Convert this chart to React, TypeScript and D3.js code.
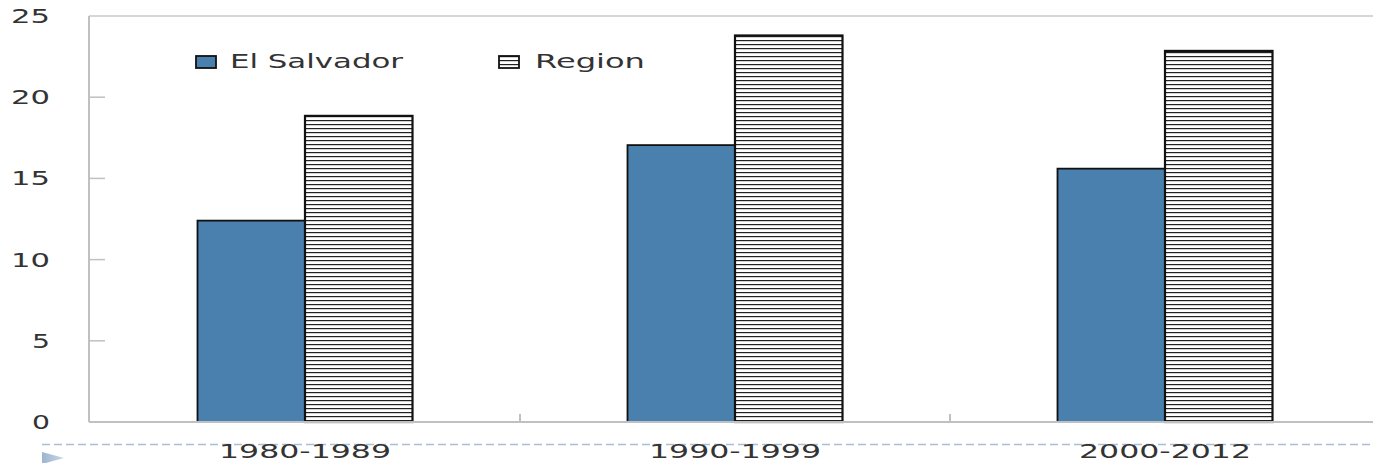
import React from "react";
import * as d3 from "d3";

const categories = ["1980-1989", "1990-1999", "2000-2012"];
const series = ["El Salvador", "Region"];
const elSalvador = [12.4, 17.05, 15.6];
const region = [18.85, 23.8, 22.85];
const yTicks = [0, 5, 10, 15, 20, 25];

const W = 1373;
const H = 463;
const left = 89;
const top = 16;
const bottom = 422;
const font = "'DejaVu Sans', Verdana, sans-serif";
const textColor = "#333333";

export default function App() {
  const x = d3.scaleBand<string>().domain(categories).range([90, 1380]).padding(0);
  const xs = d3
    .scaleBand<string>()
    .domain(series)
    .range([x.bandwidth() * 0.25, x.bandwidth() * 0.75])
    .padding(0);
  const y = d3.scaleLinear().domain([0, 25]).range([bottom, top]);
  const values = [elSalvador, region];

  return (
    <svg width={W} height={H} style={{ position: "absolute", left: 0, top: 0 }}>
      <defs>
        <pattern id="hatch" patternUnits="userSpaceOnUse" width="8" height="4" y="0">
          <rect width="8" height="4" fill="#ffffff" />
          <rect y="0" width="8" height="1.2" fill="#222222" />
        </pattern>
        <linearGradient id="tri" x1="0" x2="1" y1="0" y2="0">
          <stop offset="0" stopColor="#9cb4d0" />
          <stop offset="1" stopColor="#c8d6e6" />
        </linearGradient>
      </defs>
      <rect width={W} height={H} fill="#ffffff" />

      {/* plot frame */}
      <line x1={left} x2={W} y1={top} y2={top} stroke="#c8c8c8" strokeWidth={1.5} />
      <line x1={left} x2={left} y1={top} y2={bottom} stroke="#c0c0c0" strokeWidth={2} />

      {/* y ticks */}
      {yTicks.map((t) => (
        <g key={t}>
          {t > 0 && t < 25 && (
            <line x1={left} x2={105} y1={y(t)} y2={y(t)} stroke="#c0c0c0" strokeWidth={1.5} />
          )}
          <text
            x={50}
            y={y(t) + 7}
            textAnchor="end"
            fontFamily={font}
            fontSize={19.5}
            fill={textColor}
            textLength={String(t).length === 1 ? 18 : 39}
            lengthAdjust="spacingAndGlyphs"
          >
            {t}
          </text>
        </g>
      ))}

      {/* bars */}
      {categories.map((c, i) => (
        <g key={c} transform={`translate(${x(c)},0)`}>
          {series.map((s, j) => {
            const v = values[j][i];
            return (
              <rect
                key={s}
                x={xs(s)}
                y={y(v)}
                width={xs.bandwidth()}
                height={y(0) - y(v)}
                fill={j === 0 ? "#4a80ae" : "url(#hatch)"}
                stroke="#111111"
                strokeWidth={j === 0 ? 1.8 : 2.2}
              />
            );
          })}
        </g>
      ))}

      {/* x axis */}
      <line x1={left} x2={W} y1={bottom} y2={bottom} stroke="#c0c0c0" strokeWidth={2} />
      {categories.slice(1).map((c) => (
        <line
          key={c}
          x1={x(c)}
          x2={x(c)}
          y1={bottom - 8}
          y2={bottom}
          stroke="#c0c0c0"
          strokeWidth={2}
        />
      ))}

      {/* dashed line and marker */}
      <line
        x1={42}
        x2={W}
        y1={444.5}
        y2={444.5}
        stroke="#a9bfd6"
        strokeWidth={1.3}
        strokeDasharray="8,4"
      />
      <polygon points="42,452 64,458 42,464" fill="url(#tri)" />

      {/* category labels */}
      {categories.map((c) => (
        <text
          key={c}
          x={(x(c) as number) + x.bandwidth() / 2}
          y={458}
          textAnchor="middle"
          fontFamily={font}
          fontSize={20}
          fill={textColor}
          textLength={172}
          lengthAdjust="spacingAndGlyphs"
        >
          {c}
        </text>
      ))}

      {/* legend */}
      <rect x={196} y={56} width={20} height={12} fill="#4a80ae" stroke="#111" strokeWidth={1.8} />
      <text
        x={230}
        y={68}
        fontFamily={font}
        fontSize={19.5}
        fill={textColor}
        textLength={173}
        lengthAdjust="spacingAndGlyphs"
      >
        {series[0]}
      </text>
      <rect x={499} y={56} width={20} height={12} fill="url(#hatch)" stroke="#111" strokeWidth={1.8} />
      <text
        x={535}
        y={68}
        fontFamily={font}
        fontSize={19.5}
        fill={textColor}
        textLength={110}
        lengthAdjust="spacingAndGlyphs"
      >
        {series[1]}
      </text>
    </svg>
  );
}
